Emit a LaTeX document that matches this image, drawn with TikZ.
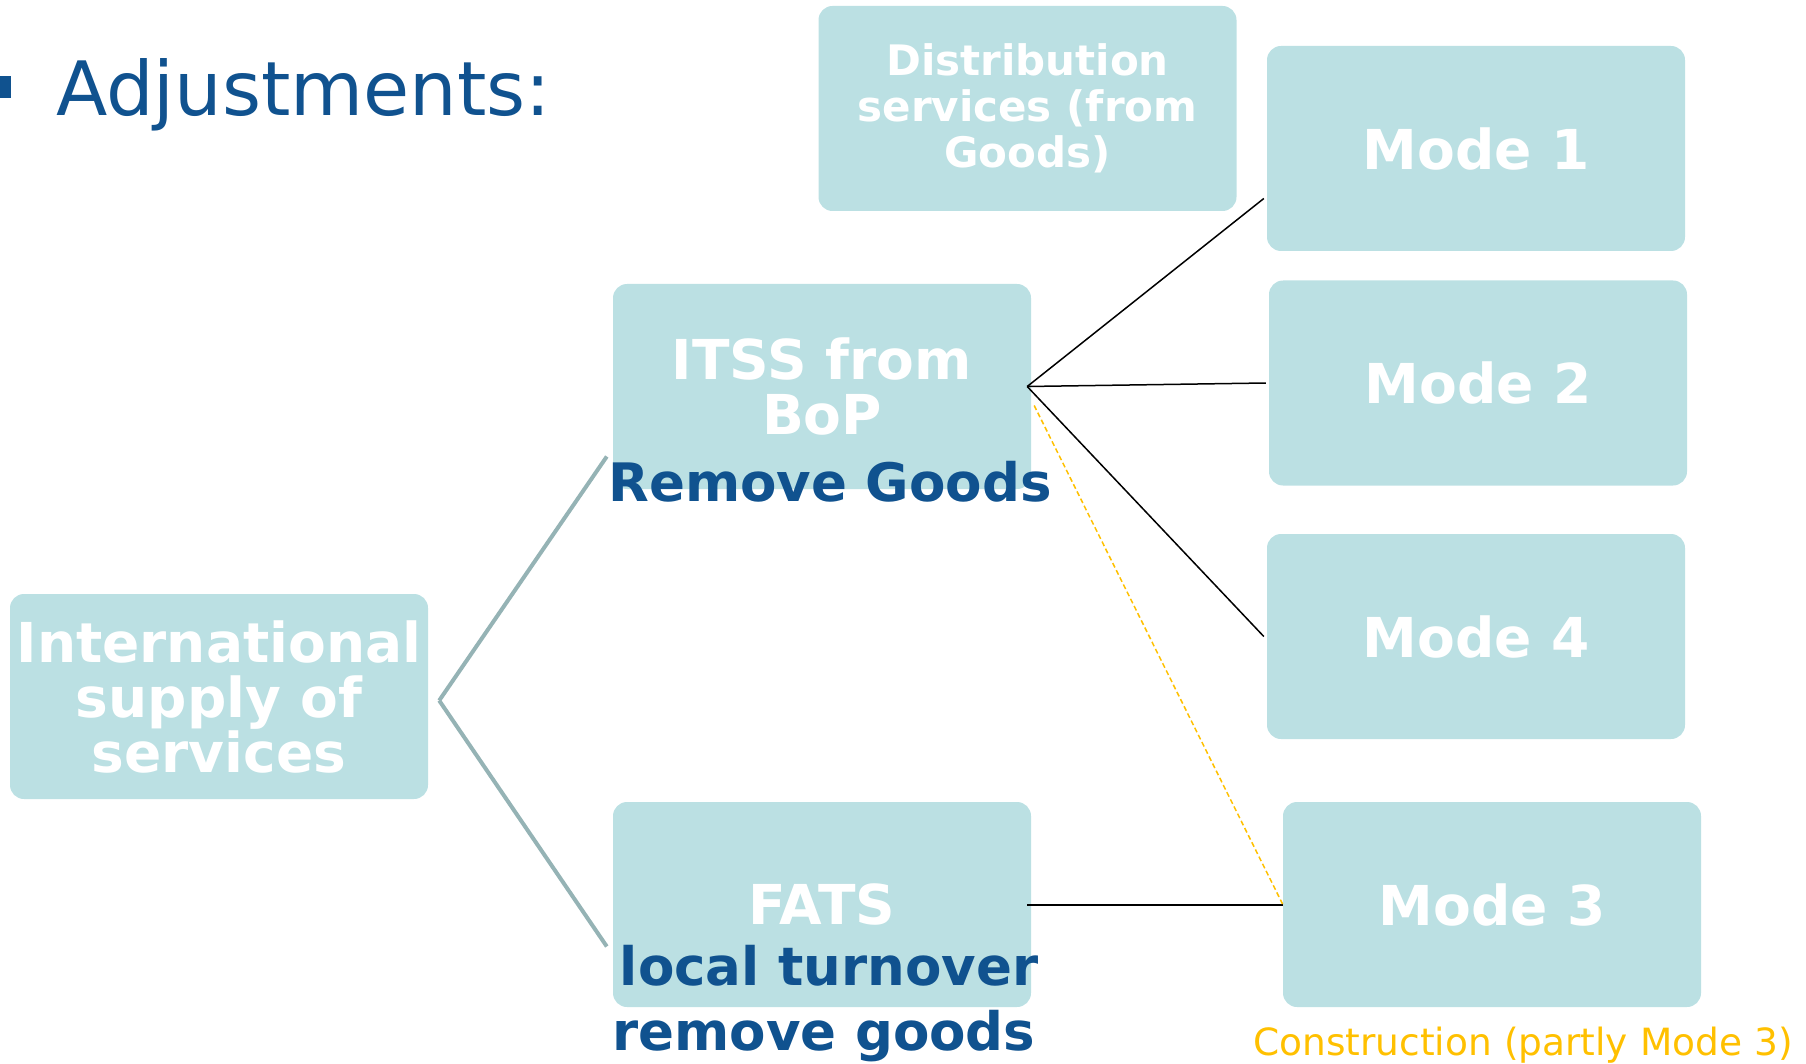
\documentclass[tikz,border=0pt]{standalone}
\usepackage{fontspec}
\setmainfont{DejaVu Sans}
\definecolor{boxfill}{HTML}{BBE0E3}
\definecolor{darkblue}{HTML}{10528F}
\definecolor{stemgray}{HTML}{95B3B5}
\definecolor{gold}{HTML}{FFC000}
\tikzset{
  modebox/.style={fill=boxfill, draw=none, rounded corners=14pt, minimum width=418pt, minimum height=205pt,
    inner sep=0pt, text=white, align=center, font=\bfseries\fontsize{55}{55}\selectfont},
  smallbox/.style={modebox, font=\bfseries\fontsize{42}{46}\selectfont},
  bluetext/.style={inner sep=0pt, text=darkblue, font=\bfseries\fontsize{53}{53}\selectfont},
  stemline/.style={draw=stemgray, line width=4pt},
  blackline/.style={draw=black, line width=1.5pt},
  goldline/.style={draw=gold, line width=1.5pt, dash pattern=on 5pt off 3pt},
}
\begin{document}
\begin{tikzpicture}[x=1pt,y=-1pt]
\useasboundingbox (0,0) rectangle (1806,1064);
% title
\fill[darkblue] (-11,76) rectangle (11,98);
\node[anchor=base west, inner sep=0pt, text=darkblue, font=\fontsize{75}{75}\selectfont] (title) at (56,116) {Adjustments:};
% boxes
\node[smallbox] (dist) at (1027.5,108.5) {Distribution\\services (from\\Goods)};
\node[modebox] (m1) at (1476,148.5) {Mode 1};
\node[modebox] (m2) at (1478,383) {Mode 2};
\node[modebox] (m4) at (1476,636.5) {Mode 4};
\node[modebox] (m3) at (1492,904.5) {Mode 3};
\node[modebox] (itss) at (822,386.5) {ITSS from\\BoP};
\node[modebox] (fats) at (822,904.5) {FATS};
\node[modebox] (intl) at (219,696.5) {International\\supply of\\services};
% blue texts
\node[bluetext, anchor=base] (rg) at (830,501) {Remove Goods};
\node[bluetext, anchor=base] (lt) at (829,985) {local turnover};
\node[bluetext, anchor=base] (rmg) at (824,1050) {remove goods};
\node[anchor=base, inner sep=0pt, text=gold, font=\fontsize{37.5}{37.5}\selectfont] (constr) at (1523,1055) {Construction (partly Mode 3)};
% connectors
\coordinate (hub) at ([xshift=11pt,yshift=-4pt]intl.east);
\draw[stemline] (hub) -- ([xshift=-6pt,yshift=-70pt]itss.west);
\draw[stemline] (hub) -- ([xshift=-6pt,yshift=-42pt]fats.west);
\coordinate (ihub) at ([xshift=-4pt]itss.east);
\draw[blackline] (ihub) -- ([xshift=-3pt,yshift=-50pt]m1.west);
\draw[blackline] (ihub) -- ([xshift=-3pt]m2.west);
\draw[blackline] (ihub) -- ([xshift=-3pt]m4.west);
\draw[black, line width=2pt] ([xshift=-4pt]fats.east) -- (m3.west);
\draw[goldline] ([xshift=3pt,yshift=-19pt]itss.east) -- (m3.west);
\end{tikzpicture}
\end{document}
